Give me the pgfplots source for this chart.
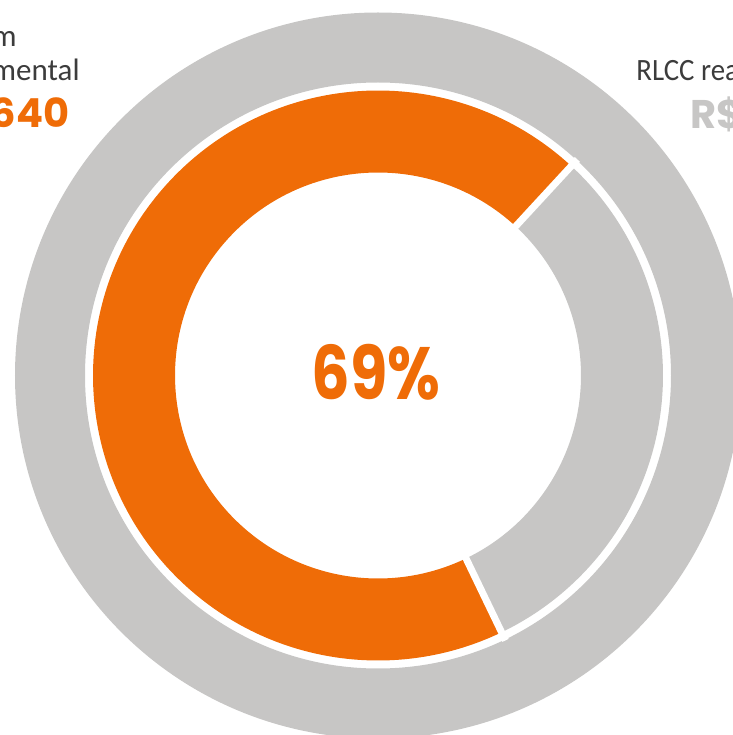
\documentclass[border=0pt]{standalone}
\usepackage{fontspec}
\setmainfont{Carlito}
\newfontfamily\pop{Poppins}
\usepackage{pgfplots}
\usepackage{pgfplotstable}
\pgfplotsset{compat=1.18}
\definecolor{ringorange}{HTML}{EF6C07}
\definecolor{ringgray}{HTML}{C7C6C5}
\definecolor{labeltext}{HTML}{3C3C3C}

% share of the inner ring
\pgfplotstableread{
part value
realizado 69
restante 31
}\ringdata

\begin{document}
\begin{tikzpicture}
\pgfplotstablegetelem{0}{value}\of\ringdata
\pgfmathsetmacro\va{\pgfplotsretval}
\pgfmathsetmacro\startang{47.3}
\pgfmathsetmacro\midang{\startang+3.6*\va}
\pgfmathsetmacro\endang{\startang+360}
\begin{axis}[
  hide axis,
  x=0.5pt, y=0.5pt,
  xmin=-378, xmax=355,
  ymin=-359.5, ymax=375.5,
  clip=true,
  ]
  % outer ring
  \draw[ringgray, line width=35pt] (axis cs:0,0) circle[radius=164pt];
  % inner ring
  \draw[ringorange, line width=41pt] (axis cs:0,0) ++(\startang:122pt)
    arc[start angle=\startang, end angle=\midang, radius=122pt];
  \draw[ringgray, line width=41pt] (axis cs:0,0) ++(\midang:122pt)
    arc[start angle=\midang, end angle=\endang, radius=122pt];
  % gaps between the parts
  \draw[white, line width=3.5pt] (axis cs:0,0) ++(\startang:99pt) -- ++(\startang:48pt);
  \draw[white, line width=3.5pt] (axis cs:0,0) ++(\midang:99pt) -- ++(\midang:48pt);

  \node[anchor=base, inner sep=0, text=ringorange, font=\pop\bfseries\fontsize{37}{40}\selectfont]
    at (axis cs:-2,-24.5) {\scalebox{0.82}[1]{69\%}};

  % labels
  \node[anchor=base east, inner sep=0, text=labeltext, font=\fontsize{15.5}{18}\selectfont]
    at (axis cs:-361,328.5) {m};
  \node[anchor=base east, inner sep=0, text=labeltext, font=\fontsize{15.5}{18}\selectfont]
    at (axis cs:-298,294.5) {mental};
  \node[anchor=base east, inner sep=0, text=ringorange, font=\pop\bfseries\fontsize{20}{24}\selectfont]
    at (axis cs:-308,247.5) {640};
  \node[anchor=base west, inner sep=0, text=labeltext, font=\fontsize{15.5}{18}\selectfont]
    at (axis cs:258,294.5) {\scalebox{0.93}[1]{RLCC realizado}};
  \node[anchor=base west, inner sep=0, text=ringgray, font=\pop\bfseries\fontsize{20}{24}\selectfont]
    at (axis cs:312,247) {R\$ 290};
\end{axis}
\pgfresetboundingbox
\useasboundingbox (current axis.south west) rectangle (current axis.north east);
\end{tikzpicture}
\end{document}
